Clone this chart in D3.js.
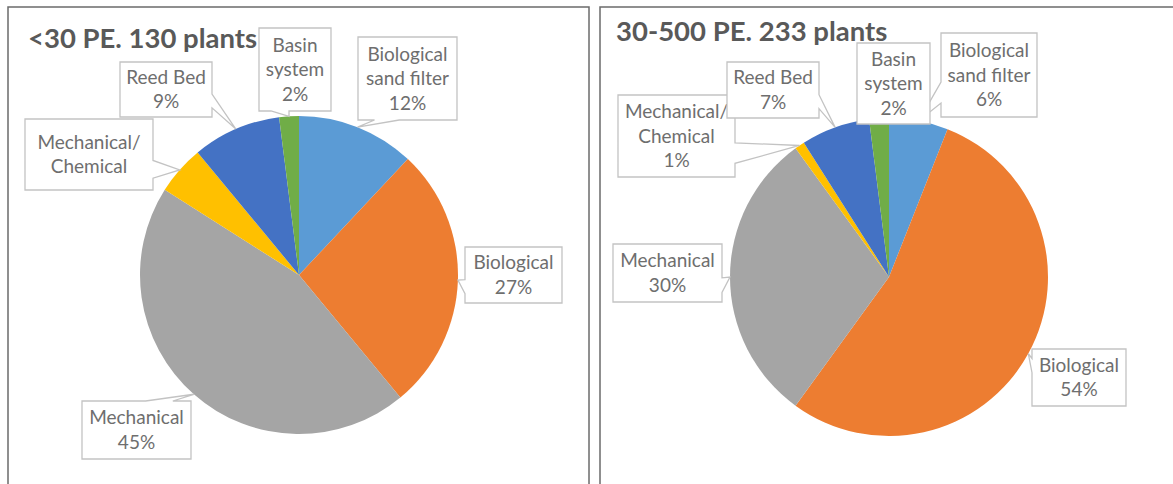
<!DOCTYPE html>
<html>
<head>
<meta charset="utf-8">
<script src="https://cdn.jsdelivr.net/npm/d3@7"></script>
<style>
  body { margin: 0; background: #fff; }
  svg text { font-family: Lato, "Open Sans", sans-serif; }
</style>
</head>
<body>
<script>
const width = 1173
const height = 484

// slices, clockwise from 12 o'clock
const categories = [["Biological", "sand filter"], ["Biological"], ["Mechanical"], ["Mechanical/", "Chemical"], ["Reed Bed"], ["Basin", "system"]]
const colors = ["#5b9bd5", "#ed7d31", "#a5a5a5", "#ffc000", "#4472c4", "#70ad47"]

const titles = ["<30 PE. 130 plants", "30-500 PE. 233 plants"]
const valuesSmall = [12, 27, 45, 5, 9, 2]
const valuesMedium = [6, 54, 30, 1, 7, 2]
// the left chart lost the % on the Mechanical/Chemical label
const pctSmall = [true, true, true, false, true, true]
const pctMedium = [true, true, true, true, true, true]

// label boxes [x, y, w, h], same order as categories
const boxesSmall = [[358, 37, 99, 83], [465, 247, 97, 56], [82, 401, 109, 58], [25, 119, 128, 71], [120, 62, 92, 55], [259, 28, 72, 83]]
const boxesMedium = [[941, 33, 96, 84], [1032, 349, 94, 57], [613, 244, 109, 58], [618, 95, 117, 82], [727, 62, 92, 56], [857, 43, 73, 81]]

const panels = [
  {frame: [8, 7, 581, 520], title: [28, 48], cx: 299, cy: 275, r: 159, values: valuesSmall, pct: pctSmall, boxes: boxesSmall},
  {frame: [600, 7, 600, 520], title: [616, 41], cx: 889, cy: 277, r: 159, values: valuesMedium, pct: pctMedium, boxes: boxesMedium}
]

const svg = d3.select('body').append('svg')
  .attr('width', width)
  .attr('height', height)

const pie = d3.pie().sort(null).value(d => d)

// excel's wedgeRectCallout shape
function callout(x, y, w, h, tx, ty) {
  const l = x, t = y, r = x + w, b = y + h
  const dx = tx - (x + w / 2), dy = ty - (y + h / 2)
  const p = d3.path()
  if (Math.abs(dx) <= w / 2 && Math.abs(dy) <= h / 2) {
    p.rect(x, y, w, h)
    return p.toString()
  }
  const dz = Math.abs(dy) - Math.abs(dx * h / w)
  const x1 = l + w * (dx > 0 ? 7 : 2) / 12, x2 = l + w * (dx > 0 ? 10 : 5) / 12
  const y1 = t + h * (dy > 0 ? 7 : 2) / 12, y2 = t + h * (dy > 0 ? 10 : 5) / 12
  p.moveTo(l, t)
  if (dz > 0 && dy < 0) { p.lineTo(x1, t); p.lineTo(tx, ty); p.lineTo(x2, t) }
  p.lineTo(r, t)
  if (dz <= 0 && dx > 0) { p.lineTo(r, y1); p.lineTo(tx, ty); p.lineTo(r, y2) }
  p.lineTo(r, b)
  if (dz > 0 && dy > 0) { p.lineTo(x2, b); p.lineTo(tx, ty); p.lineTo(x1, b) }
  p.lineTo(l, b)
  if (dz <= 0 && dx < 0) { p.lineTo(l, y2); p.lineTo(tx, ty); p.lineTo(l, y1) }
  p.closePath()
  return p.toString()
}

panels.forEach((pn, i) => {
  const g = svg.append('g')

  g.append('rect')
    .attr('x', pn.frame[0]).attr('y', pn.frame[1])
    .attr('width', pn.frame[2]).attr('height', pn.frame[3])
    .attr('fill', 'none')
    .attr('stroke', '#6b6b6b')
    .attr('stroke-width', 1.5)

  const arcs = pie(pn.values)
  const arc = d3.arc().innerRadius(0).outerRadius(pn.r)

  g.append('g')
    .attr('transform', `translate(${pn.cx},${pn.cy})`)
    .selectAll('path')
    .data(arcs)
    .enter().append('path')
    .attr('d', arc)
    .attr('fill', (d, j) => colors[j])

  const labels = g.selectAll('.label')
    .data(arcs)
    .enter().append('g')
    .attr('class', 'label')

  labels.append('path')
    .attr('d', (d, j) => {
      const a = (d.startAngle + d.endAngle) / 2
      const tx = pn.cx + pn.r * Math.sin(a)
      const ty = pn.cy - pn.r * Math.cos(a)
      const bx = pn.boxes[j]
      return callout(bx[0], bx[1], bx[2], bx[3], tx, ty)
    })
    .attr('fill', '#fff')
    .attr('stroke', '#c3c3c3')
    .attr('stroke-width', 1.3)

  labels.each(function(d, j) {
    const bx = pn.boxes[j]
    const lines = categories[j].slice()
    if (pn.pct[j]) lines.push(d.data + '%')
    const lh = 24.5
    const cxb = bx[0] + bx[2] / 2
    const cyb = bx[1] + bx[3] / 2
    d3.select(this).append('text')
      .attr('text-anchor', 'middle')
      .attr('font-size', 19)
      .attr('fill', '#6e6e6e')
      .selectAll('tspan')
      .data(lines)
      .enter().append('tspan')
      .attr('x', cxb)
      .attr('y', (s, k) => cyb + (k - (lines.length - 1) / 2) * lh)
      .attr('dy', '0.35em')
      .text(s => s)
  })

  // title last so the label boxes never cover it
  g.append('text')
    .attr('x', pn.title[0]).attr('y', pn.title[1])
    .attr('font-size', 27.5)
    .attr('font-weight', 'bold')
    .attr('fill', '#595959')
    .text(titles[i])
})
</script>
</body>
</html>
